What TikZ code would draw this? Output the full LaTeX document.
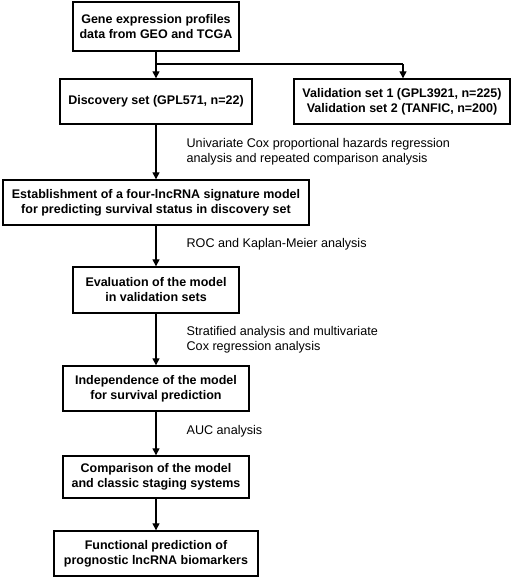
\documentclass[tikz,border=0pt]{standalone}
\usepackage{fontspec}
\setmainfont{Liberation Sans}
\usetikzlibrary{arrows.meta}
\begin{document}
\begin{tikzpicture}[x=1pt,y=-1pt,
  box/.style={draw, line width=1.4pt, align=center, font=\fontsize{12.5}{15}\selectfont\bfseries, inner sep=0pt},
  lbl/.style={align=left, anchor=west, font=\fontsize{12.6}{15}\selectfont, inner sep=0pt},
  arr/.style={line width=1.3pt, -{Triangle[length=7pt,width=7pt]}}]
\useasboundingbox (0,0) rectangle (514,579);
\node[box, minimum width=166pt, minimum height=49pt] (b1) at (156,26.5) {Gene expression profiles\\data from GEO and TCGA};
\node[box, minimum width=192pt, minimum height=45pt] (b2) at (156,101.5) {Discovery set (GPL571, n=22)};
\node[box, minimum width=216pt, minimum height=45pt] (b3) at (402,101.5) {Validation set 1 (GPL3921, n=225)\\Validation set 2 (TANFIC, n=200)};
\node[box, minimum width=306pt, minimum height=45pt] (b4) at (156,202.5) {Establishment of a four-lncRNA signature model\\for predicting survival status in discovery set};
\node[box, minimum width=166pt, minimum height=46pt] (b5) at (156,290) {Evaluation of the model\\in validation sets};
\node[box, minimum width=186pt, minimum height=45pt] (b6) at (156,388.5) {Independence of the model\\for survival prediction};
\node[box, minimum width=186pt, minimum height=42pt] (b7) at (156,477) {Comparison of the model\\and classic staging systems};
\node[box, minimum width=204pt, minimum height=45pt] (b8) at (156,553.5) {Functional prediction of\\prognostic lncRNA biomarkers};
\coordinate (s) at (156,64);
\coordinate (sr) at (403,64);
\draw[line width=1.3pt] (b1.south) -- (s) -- (sr);
\draw[arr] (s) -- (b2.north);
\draw[arr] (sr) -- (sr|-b3.north);
\draw[arr] (b2) -- (b4) node[lbl, pos=0.5, xshift=30pt] (l1) {Univariate Cox proportional hazards regression\\analysis and repeated comparison analysis};
\draw[arr] (b4) -- (b5) node[lbl, pos=0.45, xshift=30pt] (l2) {ROC and Kaplan-Meier analysis};
\draw[arr] (b5) -- (b6) node[lbl, pos=0.5, xshift=30pt] (l3) {Stratified analysis and multivariate\\Cox regression analysis};
\draw[arr] (b6) -- (b7) node[lbl, pos=0.45, xshift=30pt] (l4) {AUC analysis};
\draw[arr] (b7) -- (b8);
\end{tikzpicture}
\end{document}
